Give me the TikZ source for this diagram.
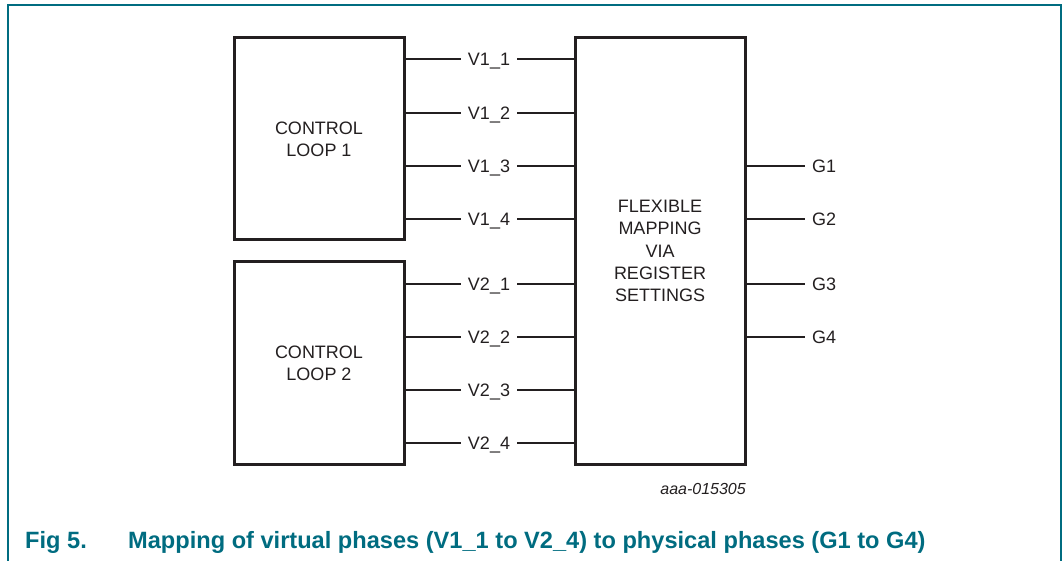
\documentclass[tikz,border=0pt]{standalone}
\usepackage{fontspec}
\setmainfont{Liberation Sans}
\definecolor{ink}{HTML}{231F20}
\definecolor{teal}{RGB}{0,108,128}
\begin{document}
\begin{tikzpicture}[x=1pt,y=-1pt,
  blockbox/.style={draw=ink,line width=3pt,minimum width=170pt,align=center,
    font=\fontsize{18}{22.3}\selectfont,text=ink,inner sep=0pt},
  sig/.style={font=\fontsize{18}{22}\selectfont,text=ink,inner xsep=7pt,inner ysep=2pt,
    text height=13pt,text depth=0pt},
  wire/.style={draw=ink,line width=1.3pt},
  frame/.style={draw=teal,line width=1.4pt},
  captext/.style={anchor=base west,inner sep=0pt,text=teal,font=\fontsize{23.6}{28}\bfseries\selectfont}]
\useasboundingbox (0,0) rectangle (1063,561);
\draw[frame] (8,561) -- (8,5) -- (1061,5) -- (1061,561);
\node[blockbox,minimum height=202pt] (cl1) at (319,139) {CONTROL\\LOOP 1};
\node[blockbox,minimum height=202pt] (cl2) at (319,363) {CONTROL\\LOOP 2};
\node[blockbox,minimum height=426pt] (map) at (660,251) {FLEXIBLE\\MAPPING\\VIA\\REGISTER\\SETTINGS};
\foreach \n/\y in {1/59,2/113,3/166,4/219}{
  \node[sig] (v1\n) at (489,\y) {V1\_\n};
  \draw[wire] (cl1.east |- v1\n) -- (v1\n) -- (map.west |- v1\n);
}
\foreach \n/\y in {1/284,2/337,3/390,4/443}{
  \node[sig] (v2\n) at (489,\y) {V2\_\n};
  \draw[wire] (cl2.east |- v2\n) -- (v2\n) -- (map.west |- v2\n);
}
\foreach \n/\y in {1/166,2/219,3/284,4/337}{
  \node[sig,anchor=west] (g\n) at (805,\y) {G\n};
  \draw[wire] (map.east |- g\n) -- (g\n);
}
\node[anchor=base east,inner sep=0pt,text=ink,font=\fontsize{16}{19}\itshape] (code) at (746,494) {aaa-015305};
\node[captext] (fig) at (25,548) {Fig 5.};
\node[captext] (cap) at (128,548) {Mapping of virtual phases (V1\_1 to V2\_4) to physical phases (G1 to G4)};
\end{tikzpicture}
\end{document}
